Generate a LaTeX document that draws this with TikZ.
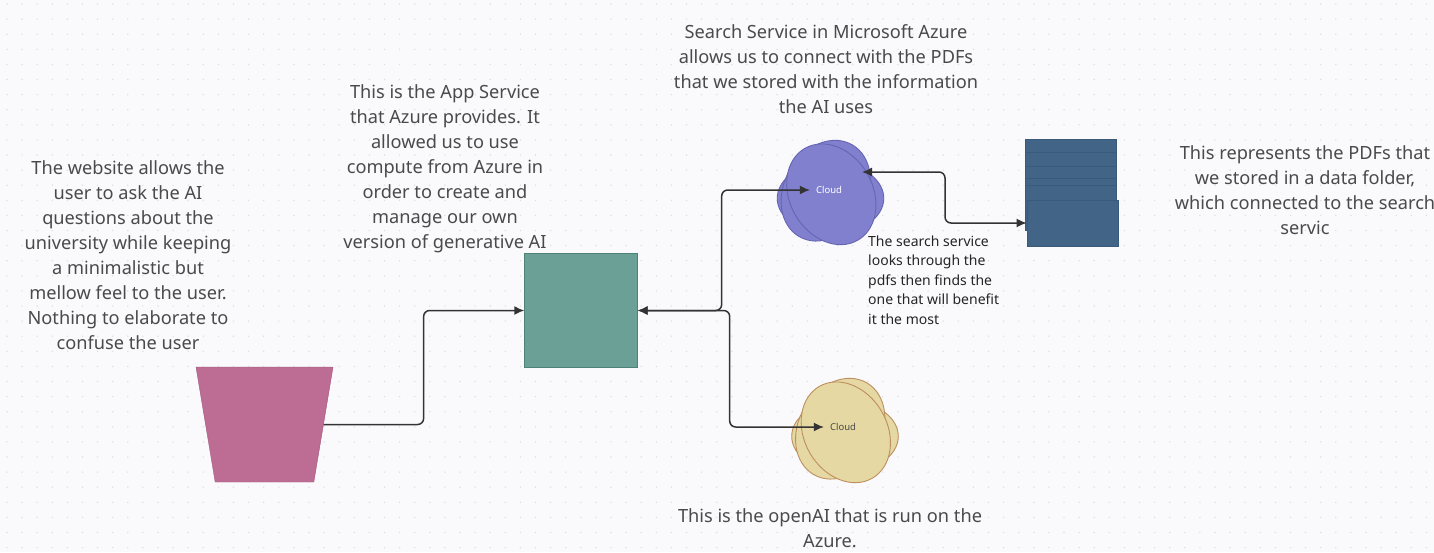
\documentclass[tikz,border=0pt]{standalone}
\usepackage{fontspec}
\setmainfont{Noto Sans}
\usetikzlibrary{shapes.geometric, arrows.meta}
\definecolor{paper}{HTML}{FAFAFD}
\definecolor{griddot}{HTML}{DEDFE4}
\definecolor{inktext}{HTML}{4A4A4A}
\definecolor{inkline}{HTML}{333333}
\definecolor{pinkfill}{HTML}{BD6D94}
\definecolor{pinkedge}{HTML}{A2557C}
\definecolor{tealfill}{HTML}{6AA096}
\definecolor{tealedge}{HTML}{4F8277}
\definecolor{purplefill}{HTML}{8080CF}
\definecolor{purpleedge}{HTML}{6565B2}
\definecolor{sandfill}{HTML}{E5D8A2}
\definecolor{sandedge}{HTML}{BD8F5E}
\definecolor{navyfill}{HTML}{426487}
\definecolor{navyedge}{HTML}{3A5A79}
\tikzset{
  note/.style={align=center, text=inktext, inner sep=0pt, font=\fontsize{18.2}{25}\selectfont},
  smallnote/.style={align=left, text=inktext!50!black, inner sep=0pt, font=\fontsize{14}{19.5}\selectfont},
  cloudtext/.style={inner xsep=6pt, inner ysep=0pt, font=\fontsize{9.5}{11}\selectfont},
  link/.style={draw=inkline, line width=1.5pt, rounded corners=6pt},
  tips/.style={{Latex[length=10pt, width=9pt]}-{Latex[length=10pt, width=9pt]}},
  lobes/.pic={
    \foreach \ang/\dx/\dy/\rx/\ry in {0/0/6.8/53.3/36, 60/-4.8/-0.8/53/41.5, -60/0.8/2.8/53/41.5}
      \draw[pic actions, rotate around={\ang:(\dx,\dy)}] (\dx,\dy) ellipse [x radius=\rx, y radius=\ry];
  }
}
\begin{document}
\begin{tikzpicture}[x=1pt, y=-1pt]
  % Canvas with dots
  \fill[paper] (0,0) rectangle (1434,552);
  \useasboundingbox (0,0) rectangle (1434,552);
  \foreach \i in {0,...,95}
    \foreach \j in {0,...,36}
      \fill[griddot] (\i*15.1+7,\j*15.1+4) circle (0.8);
  % Shapes
  \node[trapezium, shape border rotate=180, trapezium stretches=true, minimum width=137pt, minimum height=115pt,
    trapezium angle=79, inner sep=2pt, fill=pinkfill, draw=pinkedge] (website) at (264.5,424.5) {};
  \node[rectangle, minimum width=113pt, minimum height=114pt, fill=tealfill, draw=tealedge] (appservice) at (581,310.5) {};
  \pic[fill=purplefill, draw=purpleedge, line width=0.9pt] at (830.5,191.5) {lobes};
  \pic[fill=sandfill, draw=sandedge, line width=0.9pt] at (845,429.5) {lobes};
  % Stack of PDFs
  \foreach \top/\bot in {139/230, 152.7/230, 166/230, 178/230, 185/230}
    \draw[fill=navyfill, draw=navyedge, line width=0.8pt] (1025.5,\top) rectangle (1116.5,\bot);
  \node[rectangle, minimum width=91pt, minimum height=46pt, fill=navyfill, draw=navyedge, line width=0.8pt] (pdfs) at (1072.5,223) {};
  % Cloud labels
  \node[cloudtext, text=white] (search) at (829,190) {Cloud};
  \node[cloudtext, text=inktext] (openai) at (843,427) {Cloud};
  \coordinate (searchin) at (862,172);
  % Connectors
  \draw[link, -{Latex[length=10pt, width=9pt]}] (website.east) -- ++(100,0) |- (appservice.west);
  \draw[link, tips] (appservice.east) -- ++(84,0) |- (search.west);
  \draw[link, tips] (appservice.east) -- ++(92,0) |- (openai.west);
  \draw[link, tips] (searchin) -- ++(83,0) |- (pdfs.west);
  % Text
  \node[note] (websitenote) at (128,255) {The website allows the\\user to ask the AI\\questions about the\\university while keeping\\a minimalistic but\\mellow feel to the user.\\Nothing to elaborate to\\confuse the user};
  \node[note] (appnote) at (445,169) {This is the App Service\\that Azure provides. It\\allowed us to use\\compute from Azure in\\order to create and\\manage our own\\version of generative AI};
  \node[note] (searchnote) at (826,69) {Search Service in Microsoft Azure\\allows us to connect with the PDFs\\that we stored with the information\\the AI uses};
  \node[note] (pdfnote) at (1305,190) {This represents the PDFs that\\we stored in a data folder,\\which connected to the search\\servic};
  \node[note] (openainote) at (830,528) {This is the openAI that is run on the\\Azure.};
  \node[smallnote, anchor=west] (searchsteps) at (868,280) {The search service\\looks through the\\pdfs then finds the\\one that will benefit\\it the most};
\end{tikzpicture}
\end{document}
